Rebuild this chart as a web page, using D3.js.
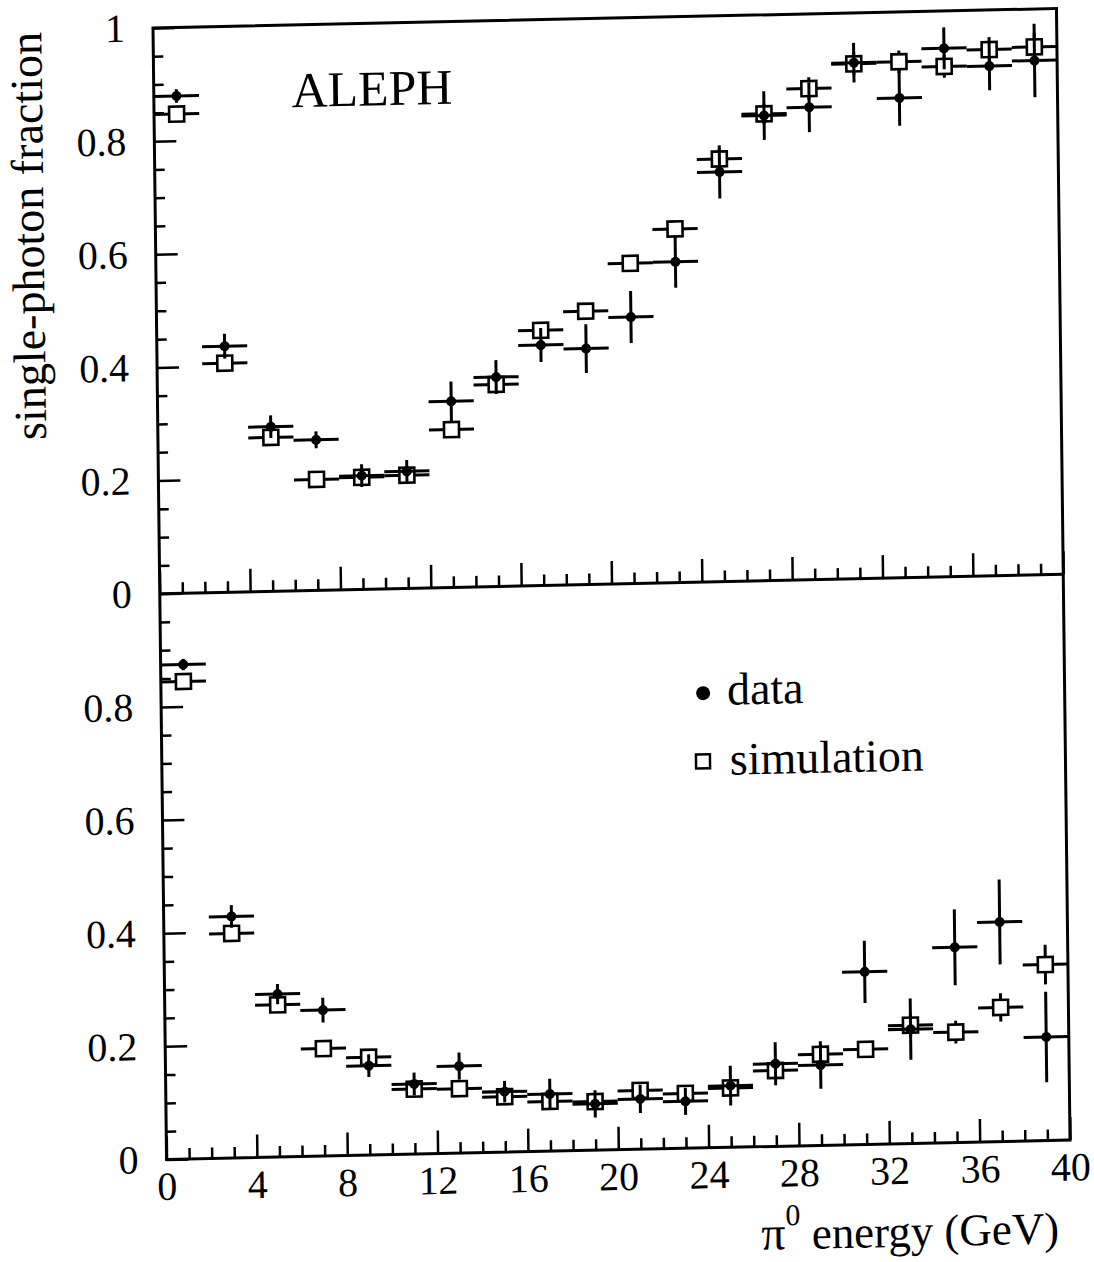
<!DOCTYPE html>
<html>
<head>
<meta charset="utf-8">
<script src="https://cdn.jsdelivr.net/npm/d3@7"></script>
<style>
  body { margin: 0; background: #fff; }
  svg { display: block; }
  text { font-family: "Liberation Serif", "Times New Roman", serif; fill: #000; }
</style>
</head>
<body>
<svg id="chart" width="1094" height="1262"></svg>
<script>
// bin centres (GeV), bins are 2 GeV wide
const energy = [1, 3, 5, 7, 9, 11, 13, 15, 17, 19, 21, 23, 25, 27, 29, 31, 33, 35, 37, 39];
const halfBin = 1;

// upper panel
const topData    = [0.879, 0.435, 0.291, 0.266, 0.201, 0.207, 0.329, 0.370, 0.425, 0.417, 0.471, 0.567, 0.724, 0.822, 0.835, 0.912, 0.848, 0.934, 0.901, 0.909];
const topDataErr = [0.012, 0.022, 0.020, 0.015, 0.020, 0.020, 0.035, 0.030, 0.030, 0.043, 0.046, 0.046, 0.047, 0.043, 0.044, 0.035, 0.049, 0.037, 0.043, 0.065];
const topSim     = [0.847, 0.405, 0.272, 0.196, 0.198, 0.200, 0.279, 0.357, 0.451, 0.483, 0.566, 0.625, 0.747, 0.825, 0.868, 0.910, 0.912, 0.902, 0.930, 0.933];
const topSimErr  = [0.008, 0.010, 0.010, 0.008, 0.008, 0.008, 0.010, 0.012, 0.012, 0.012, 0.012, 0.015, 0.018, 0.018, 0.020, 0.020, 0.020, 0.020, 0.022, 0.025];

// lower panel
const botData    = [0.874, 0.427, 0.288, 0.258, 0.158, 0.124, 0.154, 0.107, 0.101, 0.082, 0.089, 0.083, 0.109, 0.146, 0.142, 0.305, 0.202, 0.345, 0.388, 0.183];
const botDataErr = [0.010, 0.020, 0.018, 0.022, 0.020, 0.020, 0.024, 0.019, 0.027, 0.024, 0.025, 0.024, 0.035, 0.038, 0.042, 0.055, 0.054, 0.067, 0.075, 0.080];
const botSim     = [0.844, 0.397, 0.269, 0.190, 0.173, 0.115, 0.114, 0.098, 0.088, 0.086, 0.104, 0.097, 0.105, 0.134, 0.161, 0.168, 0.209, 0.195, 0.237, 0.311];
const botSimErr  = [0.006, 0.008, 0.008, 0.008, 0.008, 0.008, 0.008, 0.008, 0.008, 0.008, 0.008, 0.010, 0.010, 0.012, 0.012, 0.012, 0.020, 0.020, 0.025, 0.035];

const xMajor = [0, 4, 8, 12, 16, 20, 24, 28, 32, 36, 40];
const xMinor = d3.range(1, 40).filter(d => d % 4 !== 0);
const yTopLabels = [0, 0.2, 0.4, 0.6, 0.8, 1];
const yBotLabels = [0, 0.2, 0.4, 0.6, 0.8];
const yMinor = d3.range(1, 20).map(i => i / 20).filter(d => Math.round(d * 100) % 20 !== 0);

const W = 905, PH = 565;
const x = d3.scaleLinear().domain([0, 40]).range([0, W]);
const yTop = d3.scaleLinear().domain([0, 1]).range([PH, 0]);
const yBot = d3.scaleLinear().domain([0, 1]).range([2 * PH, PH]);

// the printed figure is slightly skewed on the page
const M = [0.9983, -0.0215, 0.012, 1.0013, 153, 28];
const svg = d3.select("#chart");
const g = svg.append("g").attr("transform", `matrix(${M.join(",")})`);

const fmt = d3.format("~g");

function yAxis(scale, labels) {
  g.append("g")
    .call(d3.axisLeft(scale).tickValues(yMinor).tickSize(-10).tickSizeOuter(0).tickFormat(""))
    .call(a => a.select(".domain").remove())
    .selectAll("line").attr("stroke-width", 2.5);
  g.append("g")
    .call(d3.axisLeft(scale).tickValues(labels).tickSize(-22).tickSizeOuter(0).tickPadding(28).tickFormat(fmt))
    .call(a => a.select(".domain").remove())
    .call(a => a.selectAll("line").attr("stroke-width", 2.5))
    .call(a => a.selectAll("text").attr("font-size", 40).attr("font-family", null));
}

function xAxis(yPos, withLabels) {
  g.append("g").attr("transform", `translate(0,${yPos})`)
    .call(d3.axisBottom(x).tickValues(xMinor).tickSize(-11).tickSizeOuter(0).tickFormat(""))
    .call(a => a.select(".domain").remove())
    .selectAll("line").attr("stroke-width", 2.5);
  g.append("g").attr("transform", `translate(0,${yPos})`)
    .call(d3.axisBottom(x).tickValues(xMajor).tickSize(-23).tickSizeOuter(0).tickPadding(12)
      .tickFormat(withLabels ? d3.format("d") : ""))
    .call(a => a.select(".domain").remove())
    .call(a => a.selectAll("line").attr("stroke-width", 2.5))
    .call(a => a.selectAll("text").attr("font-size", 40).attr("font-family", null));
}

yAxis(yTop, yTopLabels);
yAxis(yBot, yBotLabels);
xAxis(PH, false);
xAxis(2 * PH, true);

// frame and divider
g.append("rect").attr("x", 0).attr("y", 0).attr("width", W).attr("height", 2 * PH)
  .attr("fill", "none").attr("stroke", "#000").attr("stroke-width", 3);
g.append("line").attr("x1", 0).attr("x2", W).attr("y1", PH).attr("y2", PH)
  .attr("stroke", "#000").attr("stroke-width", 3);

function panel(y, data, dataErr, sim, simErr) {
  const simRows = energy.map((e, i) => ({ e, v: sim[i], err: simErr[i] }));
  const dataRows = energy.map((e, i) => ({ e, v: data[i], err: dataErr[i] }));
  const p = g.append("g").attr("stroke", "#000").attr("stroke-width", 3);

  // simulation: error bars then open squares
  p.append("g").selectAll("line").data(simRows).join("line")
    .attr("x1", d => x(d.e - halfBin)).attr("x2", d => x(d.e + halfBin))
    .attr("y1", d => y(d.v)).attr("y2", d => y(d.v));
  p.append("g").selectAll("line").data(simRows).join("line")
    .attr("x1", d => x(d.e)).attr("x2", d => x(d.e))
    .attr("y1", d => y(d.v - d.err)).attr("y2", d => y(d.v + d.err));
  p.append("g").selectAll("rect").data(simRows).join("rect")
    .attr("x", d => x(d.e) - 7.5).attr("y", d => y(d.v) - 7.5)
    .attr("width", 15).attr("height", 15)
    .attr("fill", "#fff").attr("stroke-width", 2.6);

  // data: error bars then filled dots
  p.append("g").selectAll("line").data(dataRows).join("line")
    .attr("x1", d => x(d.e - halfBin)).attr("x2", d => x(d.e + halfBin))
    .attr("y1", d => y(d.v)).attr("y2", d => y(d.v));
  p.append("g").selectAll("line").data(dataRows).join("line")
    .attr("x1", d => x(d.e)).attr("x2", d => x(d.e))
    .attr("y1", d => y(d.v - d.err)).attr("y2", d => y(d.v + d.err));
  p.append("g").selectAll("circle").data(dataRows).join("circle")
    .attr("cx", d => x(d.e)).attr("cy", d => y(d.v)).attr("r", 5)
    .attr("fill", "#000").attr("stroke", "none");
}

panel(yTop, topData, topDataErr, topSim, topSimErr);
panel(yBot, botData, botDataErr, botSim, botSimErr);

// labels
g.append("text").attr("x", 138).attr("y", 82).attr("font-size", 50).text("ALEPH");

g.append("text")
  .attr("transform", "translate(-112,205) rotate(-90)")
  .attr("text-anchor", "middle").attr("font-size", 46)
  .text("single-photon fraction");

const xt = g.append("text").attr("x", 893).attr("y", 1233)
  .attr("text-anchor", "end").attr("font-size", 45);
xt.append("tspan").attr("font-size", 48).text("π");
xt.append("tspan").attr("font-size", 30).attr("dy", -24).text("0");
xt.append("tspan").attr("dy", 24).text(" energy (GeV)");

// legend
g.append("circle").attr("cx", 543).attr("cy", 676).attr("r", 7).attr("fill", "#000");
g.append("text").attr("x", 567).attr("y", 688).attr("font-size", 46).text("data");
g.append("rect").attr("x", 535).attr("y", 737).attr("width", 14).attr("height", 14)
  .attr("fill", "#fff").attr("stroke", "#000").attr("stroke-width", 2.5);
g.append("text").attr("x", 569).attr("y", 758).attr("font-size", 46).text("simulation");
</script>
</body>
</html>
